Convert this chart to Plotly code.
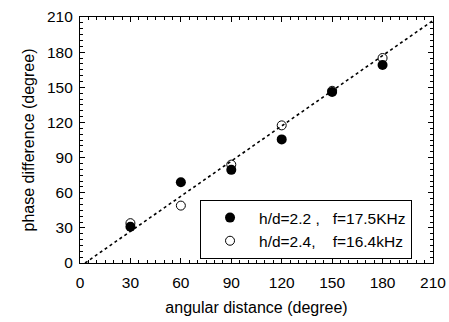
import plotly.graph_objects as go

angles = [30, 60, 90, 120, 150, 180]
phase_22 = [31, 69, 79.5, 105.5, 146, 169]
phase_24 = [34, 49, 84, 117.5, 147, 175]
line_x = [3, 210]
line_y = [0, 207]
ticks = [0, 30, 60, 90, 120, 150, 180, 210]

font = dict(family="Liberation Sans, Arial, sans-serif", color="black")

fig = go.Figure()
fig.add_trace(go.Scatter(x=line_x, y=line_y, mode="lines",
                         line=dict(color="black", width=1.6, dash="dot"),
                         showlegend=False, hoverinfo="skip"))
fig.add_trace(go.Scatter(x=angles, y=phase_22, mode="markers",
                         name="h/d=2.2 ,   f=17.5KHz",
                         marker=dict(symbol="circle", size=10, color="black")))
fig.add_trace(go.Scatter(x=angles, y=phase_24, mode="markers",
                         name="h/d=2.4,    f=16.4kHz",
                         marker=dict(symbol="circle-open", size=9, color="black",
                                     line=dict(width=1))))

axis_common = dict(range=[0, 210], tickvals=ticks, showgrid=False, zeroline=False,
                   showline=True, linecolor="black", linewidth=1.2, mirror="allticks",
                   ticks="inside", ticklen=5, tickcolor="black",
                   minor=dict(ticks="inside", ticklen=3, dtick=5, tickcolor="black"),
                   tickfont=dict(size=15.5, **font), automargin=False)

fig.update_xaxes(**axis_common, ticklabelstandoff=5,
                 title=dict(text="angular distance (degree)", font=dict(size=16, **font), standoff=12))
fig.update_yaxes(**axis_common, ticklabelstandoff=3,
                 title=dict(text="phase difference (degree)", font=dict(size=16, **font), standoff=8))

fig.update_layout(
    width=449, height=322,
    margin=dict(l=80, r=16, t=17, b=59),
    paper_bgcolor="white", plot_bgcolor="white",
    font=font,
    legend=dict(x=0.34, y=0.256, xanchor="left", yanchor="top",
                bordercolor="black", borderwidth=1, bgcolor="white",
                font=dict(size=15.5, **font), itemwidth=48,
                tracegroupgap=0),
)

fig.write_html("out.html")
